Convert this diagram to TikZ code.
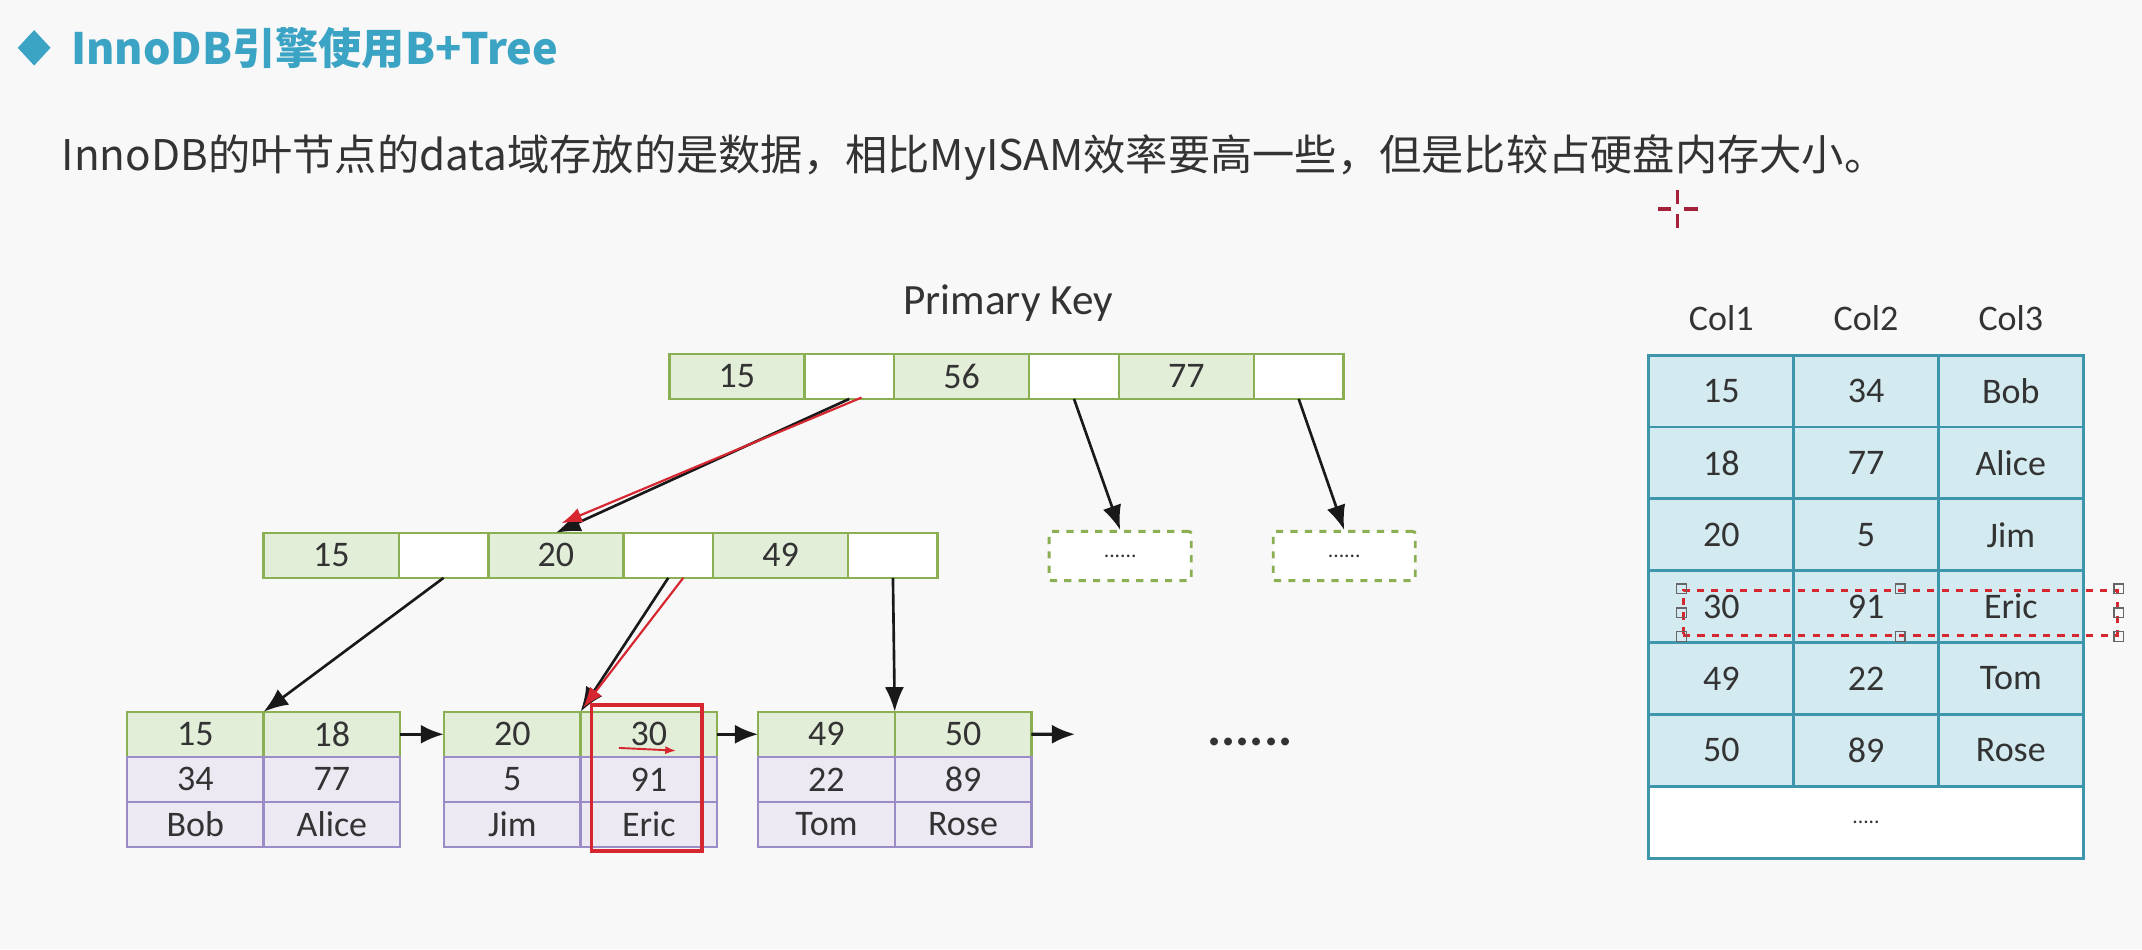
\documentclass[tikz,border=0pt]{standalone}
\usepackage{fontspec}
\setmainfont{Carlito}
\newfontfamily\cjk{Noto Sans CJK SC}
\usetikzlibrary{calc,positioning,arrows.meta}

\definecolor{pagebg}{RGB}{248,248,248}
\definecolor{txtgray}{RGB}{51,51,51}
\definecolor{titleblue}{RGB}{59,163,196}
\definecolor{keyfill}{RGB}{227,238,217}
\definecolor{keydraw}{RGB}{139,176,84}
\definecolor{datafill}{RGB}{237,233,243}
\definecolor{datadraw}{RGB}{155,140,200}
\definecolor{tabfill}{RGB}{211,234,240}
\definecolor{tabdraw}{RGB}{62,150,173}
\definecolor{markred}{RGB}{214,38,48}
\definecolor{cursred}{RGB}{165,32,57}

\tikzset{
  cell/.style     = {draw, inner sep=0pt, outer sep=0pt, line width=1pt,
                     text=txtgray, font=\fontsize{15}{15}\selectfont},
  keycell/.style  = {cell, fill=keyfill, draw=keydraw, minimum width=1.98cm, minimum height=0.66cm},
  ptrcell/.style  = {cell, fill=white, draw=keydraw, minimum width=1.31cm, minimum height=0.66cm},
  leafkey/.style  = {cell, fill=keyfill, draw=keydraw, minimum width=2cm, minimum height=0.66cm},
  leafdata/.style = {cell, fill=datafill, draw=datadraw, minimum width=2cm, minimum height=0.66cm},
  tabcell/.style  = {cell, fill=tabfill, draw=tabdraw, line width=1.2pt, minimum width=2.12cm, minimum height=1.052cm},
  dashbox/.style  = {draw=keydraw, fill=white, dashed, line width=1.2pt, rounded corners=1pt,
                     minimum width=2.08cm, minimum height=0.72cm, text=txtgray, font=\fontsize{9}{9}\selectfont},
  selbox/.style   = {draw=markred, dashed, line width=1.2pt, inner sep=0pt, minimum width=6.36cm, minimum height=0.66cm},
  handle/.style   = {draw=black!60, line width=0.5pt, inner sep=0pt, minimum size=0.14cm},
  ptr/.style      = {-{Latex[length=3.6mm,width=2.8mm]}, line width=1.1pt, black!90},
  redptr/.style   = {-{Latex[length=3mm,width=2.2mm]}, line width=0.9pt, markred},
  link/.style     = {-{Latex[length=3.4mm,width=2.8mm]}, line width=1.4pt, black!90},
}

\begin{document}
\begin{tikzpicture}[x=0.02cm, y=-0.02cm]
  \fill[pagebg] (0,0) rectangle (1568,695);
  \useasboundingbox (0,0) rectangle (1568,695);

  % heading and remark
  \fill[titleblue] (13,35) -- (25,22) -- (37,35) -- (25,48) -- cycle;
  \node[anchor=west, text=titleblue, font={\cjk\bfseries\fontsize{18}{22}\selectfont}] (title) at (46,35) {InnoDB引擎使用B+Tree};
  \node[anchor=west, text=txtgray, font={\cjk\fontsize{17.6}{20}\selectfont}] (desc) at (39,115)
    {InnoDB的叶节点的data域存放的是数据，相比MyISAM效率要高一些，但是比较占硬盘内存大小。};

  % cursor mark
  \draw[cursred, line width=1.3pt] (1228,139) -- (1228,149) (1228,157) -- (1228,167);
  \draw[cursred, line width=1.3pt] (1214,153) -- (1223,153) (1233,153) -- (1243,153);

  % root page
  \node[text=txtgray, font=\fontsize{18}{18}\selectfont] (pk) at (738,222) {Primary Key};
  \node[keycell, anchor=north west] (r1) at (490,259) {15};
  \node[ptrcell, right=0pt of r1] (r2) {};
  \node[keycell, right=0pt of r2] (r3) {56};
  \node[ptrcell, right=0pt of r3] (r4) {};
  \node[keycell, right=0pt of r4] (r5) {77};
  \node[ptrcell, right=0pt of r5] (r6) {};

  % middle page
  \node[keycell, anchor=north west] (m1) at (193,390) {15};
  \node[ptrcell, right=0pt of m1] (m2) {};
  \node[keycell, right=0pt of m2] (m3) {20};
  \node[ptrcell, right=0pt of m3] (m4) {};
  \node[keycell, right=0pt of m4] (m5) {49};
  \node[ptrcell, right=0pt of m5] (m6) {};

  \node[dashbox] (d1) at (820,407) {......};
  \node[dashbox] (d2) at (984,407) {......};

  % leaf pages
  \foreach \i/\x/\ka/\kb/\va/\vb/\na/\nb in {1/93/15/18/34/77/Bob/Alice,
                                             2/325/20/30/5/91/Jim/Eric,
                                             3/555/49/50/22/89/Tom/Rose} {
    \node[leafkey, anchor=north west] (k\i-a) at (\x,521) {\ka};
    \node[leafkey, right=0pt of k\i-a] (k\i-b) {\kb};
    \node[leafdata, below=0pt of k\i-a] (v\i-a) {\va};
    \node[leafdata, below=0pt of k\i-b] (v\i-b) {\vb};
    \node[leafdata, below=0pt of v\i-a] (n\i-a) {\na};
    \node[leafdata, below=0pt of v\i-b] (n\i-b) {\nb};
  }
  \coordinate (tail) at (787,537.5);
  \node[text=txtgray, font=\fontsize{22}{22}\selectfont\bfseries] (etc) at (915,543) {......};

  % pointers
  \draw[ptr] (r2.south) -- (m3.north);
  \draw[redptr] ($(r2.south)+(9,-1)$) -- ($(m3.north)+(4,-7)$);
  \draw[ptr] (r4.south) -- (d1.north);
  \draw[ptr] (r6.south) -- (d2.north);
  \draw[ptr] (m2.south) -- (k1-a.north east);
  \draw[ptr] (m4.south) -- (k2-a.north east);
  \draw[redptr] ($(m4.south)+(11,0)$) -- ($(k2-a.north east)+(2,-3)$);
  \draw[ptr] (m6.south) -- (k3-a.north east);
  \draw[link] (k1-b.east) -- (k2-a.west);
  \draw[link] (k2-b.east) -- (k3-a.west);
  \draw[link] (k3-b.east) -- (tail);

  % hit in leaf
  \draw[markred, line width=1.5pt] ($(k2-b.north west)+(8,-5)$) rectangle ($(n2-b.south east)+(-11,3)$);
  \draw[-{Latex[length=1.6mm,width=1.2mm]}, markred, line width=0.8pt]
    ($(k2-b.center)+(-22,10)$) -- ($(k2-b.center)+(20,12)$);

  % table
  \foreach \c/\x in {1/1260, 2/1366, 3/1472}
    \node[text=txtgray, font=\fontsize{15}{15}\selectfont] (h\c) at (\x,233) {Col\c};
  \foreach \j/\a/\b/\c in {1/15/34/Bob, 2/18/77/Alice, 3/20/5/Jim,
                           4/30/91/Eric, 5/49/22/Tom, 6/50/89/Rose} {
    \node[tabcell] (t\j-1) at (1260,{233.7+52.6*\j}) {\a};
    \node[tabcell, right=0pt of t\j-1] (t\j-2) {\b};
    \node[tabcell, right=0pt of t\j-2] (t\j-3) {\c};
  }
  \node[tabcell, fill=white, minimum width=6.36cm, below=0pt of t6-2,
        font=\fontsize{9}{9}\selectfont] (t7) {.....};

  % selected row
  \node[selbox] (sel) at (1391,448.5) {};
  \foreach \a [count=\n] in {north west,north,north east,east,south east,south,south west,west}
    \node[handle] (hd\n) at (sel.\a) {};
\end{tikzpicture}
\end{document}
